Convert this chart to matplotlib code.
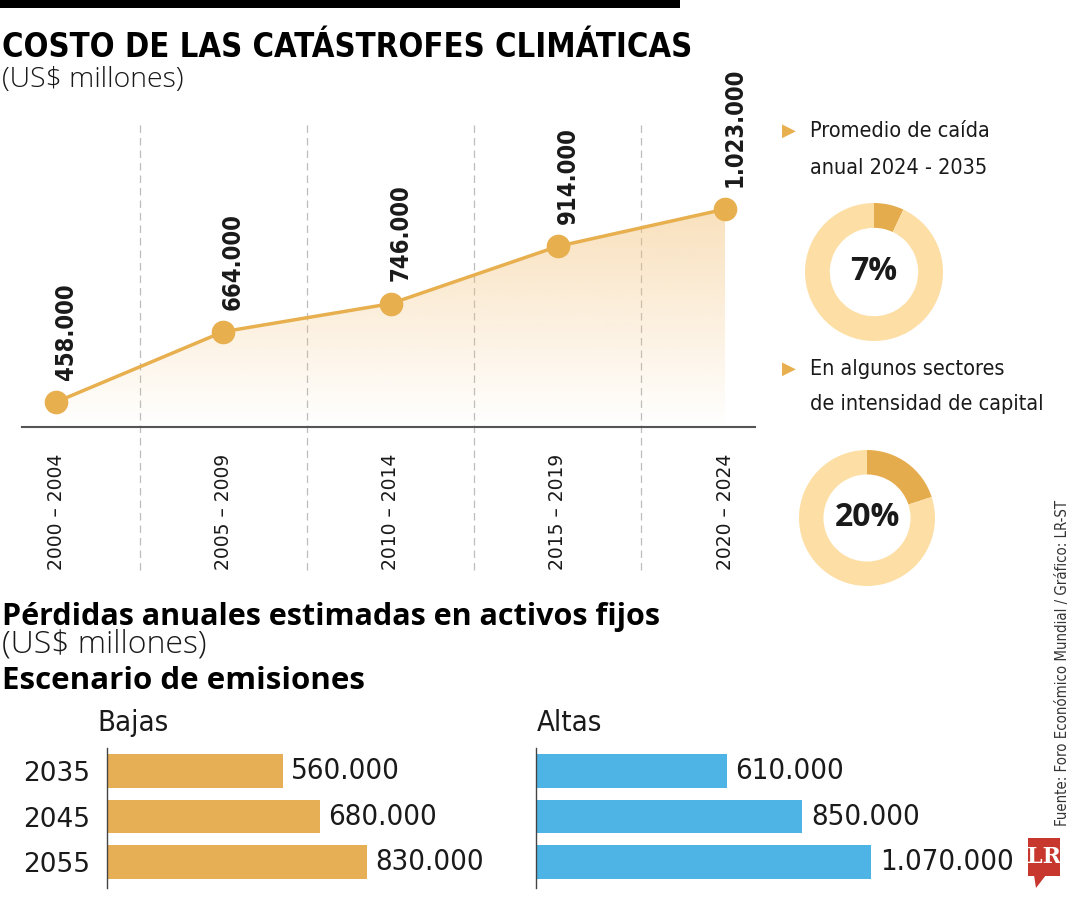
import numpy as np
import matplotlib
matplotlib.use('Agg')
import matplotlib.pyplot as plt
from matplotlib import font_manager as fm
from matplotlib.colors import to_rgb
from matplotlib.patches import Rectangle, Polygon

# data
periods = ['2000 – 2004', '2005 – 2009', '2010 – 2014', '2015 – 2019', '2020 – 2024']
costs = [458000, 664000, 746000, 914000, 1023000]

donut_pcts = [7, 20]
donut_texts = [['Promedio de caída', 'anual 2024 - 2035'],
               ['En algunos sectores', 'de intensidad de capital']]

years = ['2035', '2045', '2055']
losses_low = [560000, 680000, 830000]
losses_high = [610000, 850000, 1070000]

ORANGE = '#E8AF4F'
BAR_ORANGE = '#E6AF55'
DONUT_DARK = '#E5AC4D'
DONUT_LIGHT = '#FDDFA5'
BLUE = '#4DB4E5'
TXT = '#1a1a1a'

avail = {f.name for f in fm.fontManager.ttflist}


def pick(*names):
    for n in names:
        if n in avail:
            return n
    return 'DejaVu Sans'


NARROW = pick('Liberation Sans Narrow', 'DejaVu Sans')
SANS = pick('Open Sans', 'Noto Sans', 'DejaVu Sans')

W, H = 1080, 900


def box(x0, y0, x1, y1):
    return [x0 / W, 1 - y1 / H, (x1 - x0) / W, (y1 - y0) / H]


def fx(x):
    return x / W


def fy(y):
    return 1 - y / H


def fmt(v):
    return f'{v:,}'.replace(',', '.')


fig = plt.figure(figsize=(10.8, 9), dpi=100)
fig.patch.set_facecolor('white')

# header
fig.add_artist(Rectangle((0, fy(8)), 680 / W, 8 / H, transform=fig.transFigure,
                         color='black', lw=0))
fig.text(fx(2), fy(57), 'COSTO DE LAS CATÁSTROFES CLIMÁTICAS', fontsize=23.5,
         weight='bold', family=NARROW, stretch='condensed', color='black', va='baseline')
fig.text(fx(2), fy(87), '(US$ millones)', fontsize=20.5, family=SANS, weight='light',
         color=TXT, va='baseline')

# line chart
ax = fig.add_axes(box(22, 120, 755, 427))
x = np.arange(len(costs))
ymin = 385000
ax.patch.set_alpha(0)

grad = np.zeros((256, 1, 4))
grad[..., :3] = to_rgb('#F3C27A')
grad[..., 3] = np.linspace(0.5, 0.0, 256)[:, None]
im = ax.imshow(grad, aspect='auto', extent=[x[0], x[-1], ymin, max(costs)],
               origin='upper', zorder=1)
verts = [(x[0], ymin)] + list(zip(x, costs)) + [(x[-1], ymin)]
clip = Polygon(verts, closed=True, facecolor='none', edgecolor='none')
ax.add_patch(clip)
im.set_clip_path(clip)

for m in x[:-1] + 0.5:
    ax.axvline(m, ymin=-0.466, ymax=0.984, color='#BDBDBD', lw=0.9,
               ls=(0, (6, 4)), clip_on=False, zorder=0)

ax.plot(x, costs, color=ORANGE, lw=2.5, marker='o', ms=16, zorder=3)
for xi, c in zip(x, costs):
    ax.annotate(fmt(c), (xi, c), xytext=(7, 16), textcoords='offset points',
                rotation=90, ha='center', va='bottom', fontsize=17,
                weight='bold', family=NARROW, stretch='condensed', color=TXT)

ax.set_xlim((22 - 56) / 167.25, (755 - 56) / 167.25)
ax.set_ylim(ymin, 1284000)
ax.set_yticks([])
ax.set_xticks(x)
ax.set_xticklabels(periods, rotation=90, fontsize=13.5, family=NARROW, color=TXT)
ax.tick_params(axis='x', length=0, pad=19)
for s in ['top', 'left', 'right']:
    ax.spines[s].set_visible(False)
ax.spines['bottom'].set_color('#555555')
ax.spines['bottom'].set_linewidth(1.5)

# donuts
centers = [(874, 272, 69), (867, 518, 68)]
text_y = [(131, 168), (369, 404)]
for (cx, cy, r), p, lines, ty in zip(centers, donut_pcts, donut_texts, text_y):
    dax = fig.add_axes(box(cx - r, cy - r, cx + r, cy + r))
    dax.pie([p, 100 - p], colors=[DONUT_DARK, DONUT_LIGHT], startangle=90,
            counterclock=False, radius=1, wedgeprops=dict(width=0.36, linewidth=0))
    dax.set_xlim(-1, 1)
    dax.set_ylim(-1, 1)
    dax.text(0, 0, f'{p}%', ha='center', va='center', fontsize=23,
             weight='bold', family=SANS, color=TXT)
    fig.text(fx(782), fy(ty[0]), '▶', color=ORANGE, fontsize=13, va='center',
             family='DejaVu Sans')
    for line, yy in zip(lines, ty):
        fig.text(fx(810), fy(yy), line, fontsize=15.5, family=NARROW,
                 stretch='condensed', color=TXT, va='center')

# lower section
fig.text(fx(2), fy(625), 'Pérdidas anuales estimadas en activos fijos', fontsize=22,
         weight='bold', family=SANS, color='black', va='baseline')
fig.text(fx(2), fy(653), '(US$ millones)', fontsize=23, weight='light', family=SANS,
         color=TXT, va='baseline')
fig.text(fx(2), fy(689), 'Escenario de emisiones', fontsize=22.5, weight='bold',
         family=SANS, color='black', va='baseline')

for left, vals, color, name, name_x, show_years in [
        (107, losses_low, BAR_ORANGE, 'Bajas', 97, True),
        (536, losses_high, BLUE, 'Altas', 537, False)]:
    bax = fig.add_axes(box(left, 748, left + 313.5, 888))
    bax.patch.set_alpha(0)
    pos = np.arange(len(vals))
    bax.barh(pos, vals, height=0.73, color=color, zorder=2, clip_on=False)
    for p_, v in zip(pos, vals):
        bax.annotate(fmt(v), (v, p_), xytext=(6, 0), textcoords='offset points',
                     va='center', ha='left', fontsize=21, family=NARROW,
                     stretch='condensed', color=TXT, annotation_clip=False)
    bax.set_xlim(0, 1000000)
    bax.set_ylim(2.57, -0.505)
    bax.set_xticks([])
    bax.set_yticks(pos)
    if show_years:
        bax.set_yticklabels(years, fontsize=19, family=NARROW, color=TXT)
    else:
        bax.set_yticklabels([])
    bax.tick_params(axis='y', length=0, pad=12)
    for s in ['top', 'right', 'bottom']:
        bax.spines[s].set_visible(False)
    bax.spines['left'].set_color('#444444')
    bax.spines['left'].set_linewidth(1.0)
    fig.text(fx(name_x), fy(723), name, fontsize=21, family=NARROW,
             stretch='condensed', color=TXT, va='center')

# source and logo
fig.text(fx(1062), fy(826), 'Fuente: Foro Económico Mundial / Gráfico: LR-ST',
         rotation=90, ha='center', va='bottom', fontsize=10.7, family=NARROW,
         stretch='condensed', color='#333333')
fig.add_artist(Rectangle((fx(1028), fy(876)), 32 / W, 38 / H, transform=fig.transFigure,
                         color='#C8372D', lw=0))
fig.add_artist(Polygon([(fx(1034), fy(875)), (fx(1046), fy(875)), (fx(1036), fy(888))],
                       closed=True, transform=fig.transFigure, color='#C8372D', lw=0))
fig.text(fx(1044), fy(857), 'LR', ha='center', va='center', fontsize=16,
         weight='bold', family='DejaVu Serif', color='white')

fig.savefig('out.png', dpi=100, facecolor='white')
